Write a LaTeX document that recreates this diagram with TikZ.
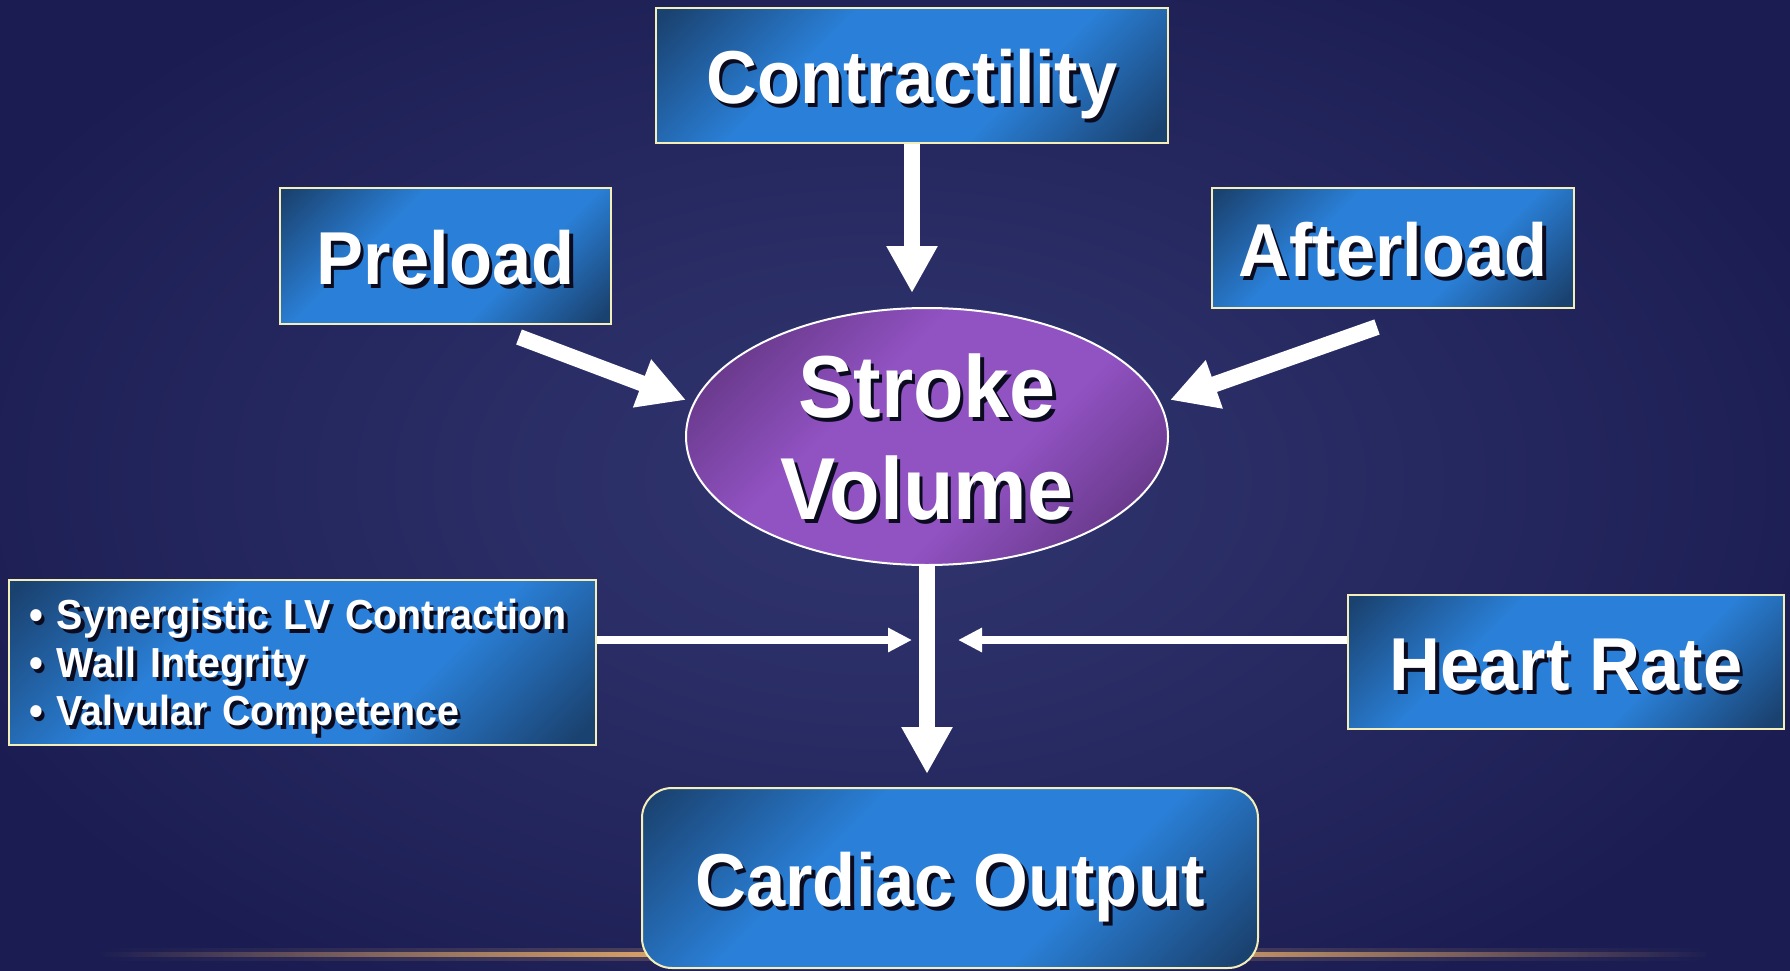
\documentclass[tikz,border=0pt]{standalone}
\usepackage{fontspec}
\setmainfont[FakeStretch=0.94]{Liberation Sans}
\usetikzlibrary{arrows.meta,shapes.geometric,fadings}
\definecolor{bgdark}{HTML}{1B1D52}
\definecolor{bgmid}{HTML}{31356E}
\definecolor{bdark}{HTML}{1A4270}
\definecolor{bbright}{HTML}{2A80D8}
\definecolor{pdark}{HTML}{663888}
\definecolor{pbright}{HTML}{9152C2}
\definecolor{bordc}{HTML}{F4EFB8}
\definecolor{glowc}{HTML}{EEB06A}
\definecolor{shadowc}{HTML}{0B0B20}
\pgfdeclareverticalshading{boxsh}{100bp}{color(0bp)=(bdark); color(17bp)=(bdark); color(37bp)=(bbright); color(63bp)=(bbright); color(84bp)=(bdark); color(100bp)=(bdark)}
\pgfdeclareverticalshading{ellsh}{100bp}{color(0bp)=(pdark); color(22bp)=(pdark); color(40bp)=(pbright); color(60bp)=(pbright); color(78bp)=(pdark); color(100bp)=(pdark)}
\pgfdeclareradialshading{bgsh}{\pgfpoint{0bp}{0bp}}{color(0bp)=(bgmid); color(9bp)=(bgmid!70!bgdark); color(25bp)=(bgdark); color(50bp)=(bgdark)}
\pgfdeclarehorizontalshading{glowfadesh}{100bp}{color(0bp)=(pgftransparent!100); color(25bp)=(pgftransparent!100); color(34bp)=(pgftransparent!55); color(42bp)=(pgftransparent!15); color(50bp)=(pgftransparent!0); color(58bp)=(pgftransparent!15); color(66bp)=(pgftransparent!55); color(75bp)=(pgftransparent!100); color(100bp)=(pgftransparent!100)}
\pgfdeclarefading{glowfade}{\pgfuseshading{glowfadesh}}
\newcommand\shd[1]{\leavevmode\rlap{\kern3.5pt\raisebox{-3.5pt}{\color{shadowc}#1}}#1}
\tikzset{
  x=1pt, y=-1pt,
  box/.style={draw=bordc, line width=2pt, shading=boxsh, shading angle=45,
    text=white, inner sep=0pt, font=\fontsize{75}{80}\selectfont\bfseries,
    text height=57pt, text depth=-3pt},
  bigarrow/.style={draw=white, line width=16pt, -{Triangle[length=47pt,width=48pt]}},
  thinarrow/.style={draw=white, line width=8pt, -{Triangle[length=24pt,width=23pt]}}
}
\begin{document}
\begin{tikzpicture}
\useasboundingbox (0,0) rectangle (1790,971);
% background
\fill[bgdark] (0,0) rectangle (1790,971);
\shade[shading=bgsh] (-120,-120) rectangle (1880,1080);
\fill[glowc, opacity=0.25, path fading=glowfade] (100,948) rectangle (1710,961);
\fill[glowc, path fading=glowfade] (100,952) rectangle (1710,957);
% nodes
\node[box, minimum width=512pt, minimum height=135pt] (contr) at (912,75.5) {\shd{Contractility}};
\node[box, minimum width=331pt, minimum height=136pt] (pre) at (445.5,256) {\shd{Preload}};
\node[box, minimum width=362pt, minimum height=120pt] (after) at (1393,248) {\shd{Afterload}};
\node[ellipse, draw=white, line width=2pt, shading=ellsh, shading angle=45,
      minimum width=482pt, minimum height=257pt, inner sep=0pt, text=white,
      font=\fontsize{88}{102}\selectfont\bfseries, align=center] (sv) at (927,436.5)
      {\rule{0pt}{69pt}\shd{Stroke}\\\shd{Volume}};
\node[box, font=\fontsize{42}{48}\selectfont\bfseries, align=left, text width=547pt,
      text height=, text depth=, minimum height=165pt, inner xsep=20pt] (lb) at (302.5,662.5)
      {\rule{0pt}{43pt}\shd{• Synergistic LV Contraction}\\\shd{• Wall Integrity}\\\shd{• Valvular Competence}};
\node[box, minimum width=436pt, minimum height=134pt] (hr) at (1566,662) {\shd{Heart Rate}};
\node[box, rounded corners=30pt, minimum width=616pt, minimum height=180pt] (co) at (950,878) {\shd{Cardiac Output}};
% arrow end points
\coordinate (cTip) at (912,293);
\coordinate (pStart) at (519,337);
\coordinate (pTip) at (686,400);
\coordinate (aStart) at (1377,327);
\coordinate (aTip) at (1170,400);
\coordinate (oTip) at (927,774);
\coordinate (lTip) at (912,640);
\coordinate (rTip) at (958,640);
% connectors
\draw[bigarrow] (contr.south) -- (cTip);
\draw[bigarrow] (pStart) -- (pTip);
\draw[bigarrow] (aStart) -- (aTip);
\draw[bigarrow] (sv.south) -- (oTip);
\draw[thinarrow] (lb.east |- lTip) -- (lTip);
\draw[thinarrow] (hr.west |- rTip) -- (rTip);
\end{tikzpicture}
\end{document}
